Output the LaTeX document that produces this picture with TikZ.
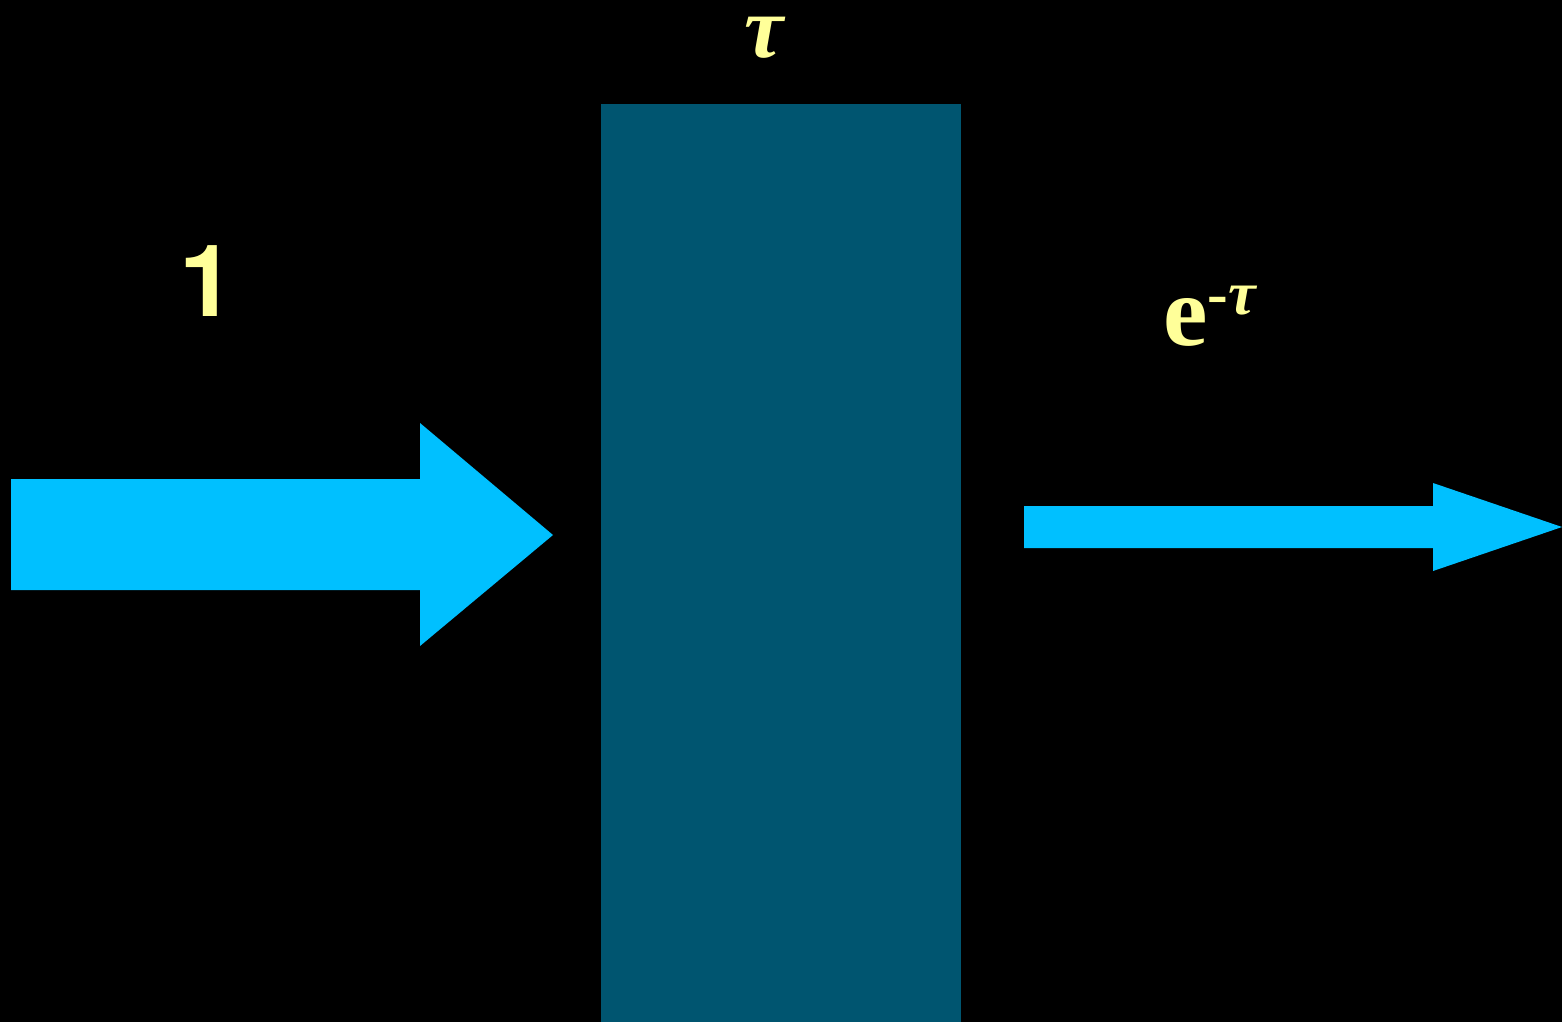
\documentclass[tikz,border=0pt]{standalone}
\usepackage{fontspec}
\setmainfont{Liberation Serif}
\newfontfamily\herosfont{TeX Gyre Heros}
\definecolor{slab}{RGB}{0,85,112}
\definecolor{beam}{RGB}{0,192,255}
\definecolor{lbl}{RGB}{255,255,153}
\begin{document}
\begin{tikzpicture}[x=1pt,y=-1pt,
  lab/.style={text=lbl,inner sep=0pt,anchor=base},
  beamfill/.style={fill=beam,draw=none}]
\fill[black] (0,0) rectangle (1562,1022);
\useasboundingbox (0,0) rectangle (1562,1022);
% slab
\fill[slab] (601,104) rectangle (961,1022);
% incoming arrow
\path[beamfill] (11,479) -- (420,479) -- (420,423) -- (553,535) -- (420,646) -- (420,590) -- (11,590) -- cycle;
% outgoing arrow
\path[beamfill] (1024,506) -- (1433,506) -- (1433,483) -- (1562,527) -- (1433,571) -- (1433,548) -- (1024,548) -- cycle;
% labels
\node[lab,text height=42pt,text depth=4pt] (tau) at (764,58) {\fontsize{88}{88}\selectfont\bfseries\itshape τ};
\node[lab] (one) at (207,316) {\herosfont\bfseries\fontsize{100}{100}\selectfont 1};
\node[lab,anchor=base west] (out) at (1163,345) {\fontsize{100}{100}\selectfont\bfseries e\fontsize{62}{62}\selectfont\raisebox{0.5em}{-\itshape τ}};
\end{tikzpicture}
\end{document}
